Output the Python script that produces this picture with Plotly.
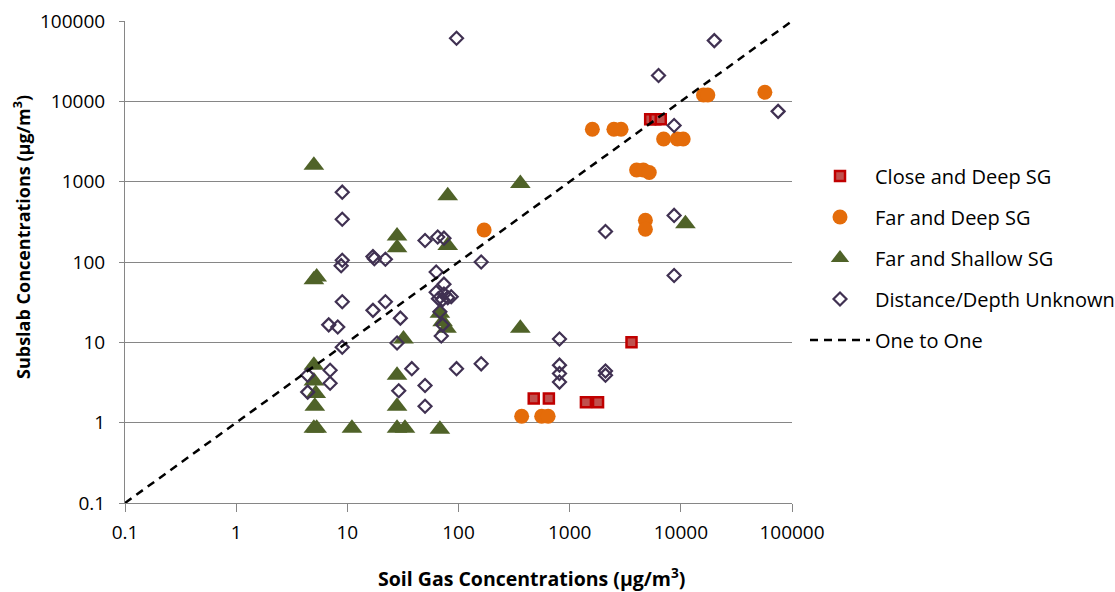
import plotly.graph_objects as go

# Close and Deep SG (soil gas x, subslab y), ug/m3
close_deep_x = [475, 650, 1400, 1800, 3600, 5300, 5900, 6600]
close_deep_y = [2.0, 2.0, 1.8, 1.8, 10, 6000, 6000, 6000]

# Far and Deep SG
far_deep_x = [1600, 2500, 2900, 7000, 9300, 10500, 4000, 4600, 5200,
              16000, 17500, 57000, 4800, 4800, 170, 370, 560, 640]
far_deep_y = [4500, 4500, 4500, 3400, 3400, 3400, 1400, 1400, 1300,
              12000, 12000, 13000, 330, 256, 250, 1.2, 1.2, 1.2]

# Far and Shallow SG
far_shallow_x = [5, 5, 5.3, 5, 5, 5.2, 5.1, 5, 5.3, 11, 28, 28, 28, 28, 28,
                 33, 32, 68, 68, 72, 78, 80, 80, 360, 360, 11000]
far_shallow_y = [1600, 60, 65, 5.2, 3.3, 2.3, 1.6, 0.85, 0.85, 0.85, 210, 150,
                 3.9, 1.6, 0.85, 0.85, 11, 0.83, 23, 18, 15, 670, 160, 950, 15, 300]

# Distance/Depth Unknown
unknown_x = [96, 20000, 6300, 75000, 8700, 8700, 2100, 65, 74, 160, 8700,
             810, 810, 810, 810, 2100, 2100, 96, 160, 38, 50, 50,
             63, 74, 63, 66, 74, 72, 80, 86, 68, 72, 70, 50,
             9, 9, 9, 8.8, 17, 17.5, 22, 9, 17, 22, 6.8, 8.2, 30, 9, 28,
             4.4, 7, 7, 4.4, 29]
unknown_y = [61000, 57000, 21000, 7500, 5000, 380, 240, 205, 198, 100, 68,
             11, 5.2, 4.1, 3.2, 4.4, 3.9, 4.7, 5.4, 4.7, 2.9, 1.6,
             75, 53, 42, 35, 40, 34, 36, 37, 24, 16.5, 12, 185,
             740, 340, 105, 90, 117, 110, 108, 32, 25, 32, 16.5, 15.5, 20, 8.7, 9.8,
             3.9, 4.5, 3.1, 2.4, 2.5]

# One-to-one reference line
one_to_one = [0.1, 100000]

tick_vals = [0.1, 1, 10, 100, 1000, 10000, 100000]
tick_text = ["0.1", "1", "10", "100", "1000", "10000", "100000"]

FONT = "Open Sans"
GRID = "#868686"
W, H = 1115, 592

fig = go.Figure()

fig.add_trace(go.Scatter(
    x=close_deep_x, y=close_deep_y, mode="markers", name="Close and Deep SG",
    legendgroup="a",
    marker=dict(symbol="square", size=10, color="#C0504D",
                line=dict(color="#C00000", width=2.5)),
))
fig.add_trace(go.Scatter(
    x=far_deep_x, y=far_deep_y, mode="markers", name="Far and Deep SG",
    legendgroup="b",
    marker=dict(symbol="circle", size=15, color="#E46C0A", line=dict(width=0)),
))
fig.add_trace(go.Scatter(
    x=far_shallow_x, y=far_shallow_y, mode="markers", name="Far and Shallow SG",
    legendgroup="c",
    marker=dict(symbol="triangle-up", size=18, color="#4F6228", line=dict(width=0)),
))
fig.add_trace(go.Scatter(
    x=unknown_x, y=unknown_y, mode="markers", name="Distance/Depth Unknown",
    legendgroup="d",
    marker=dict(symbol="diamond-open", size=10, color="#403152",
                line=dict(color="#403152", width=2.2)),
))
fig.add_trace(go.Scatter(
    x=one_to_one, y=one_to_one, mode="lines", name="One to One",
    legendgroup="e",
    line=dict(color="black", width=2.5, dash="8px,6px"),
))

fig.update_layout(
    width=W, height=H,
    margin=dict(l=125, r=323, t=21, b=89, autoexpand=False),
    paper_bgcolor="white", plot_bgcolor="white",
    font=dict(family=FONT, color="black", size=17),
    showlegend=True,
    legend=dict(
        xref="container", yref="container",
        x=805 / W, xanchor="left", y=1 - 156.5 / H, yanchor="top",
        font=dict(family=FONT, size=20, color="black"),
        traceorder="grouped", tracegroupgap=12, itemwidth=60,
        bgcolor="rgba(0,0,0,0)",
    ),
    xaxis=dict(
        type="log", range=[-1, 5], tickvals=tick_vals, ticktext=tick_text,
        showgrid=False, zeroline=False, automargin=False,
        showline=True, linecolor=GRID, linewidth=1,
        ticks="outside", ticklen=8, tickcolor=GRID, tickwidth=1,
        tickfont=dict(family=FONT, size=19), ticklabelstandoff=4,
    ),
    yaxis=dict(
        type="log", range=[-1, 5], tickvals=tick_vals, ticktext=tick_text,
        showgrid=True, gridcolor=GRID, gridwidth=1.2, zeroline=False, automargin=False,
        showline=True, linecolor=GRID, linewidth=1,
        ticks="outside", ticklen=5, tickcolor=GRID, tickwidth=1,
        tickfont=dict(family=FONT, size=19), ticklabelstandoff=10,
    ),
    annotations=[
        dict(text="<b>Soil Gas Concentrations (µg/m<sup>3</sup>)</b>",
             xref="paper", yref="paper",
             x=(531 - 125) / 667, y=-(577 - 503) / 482,
             xanchor="center", yanchor="middle", showarrow=False,
             font=dict(family=FONT, size=19.5, color="black")),
        dict(text="<b>Subslab Concentrations (µg/m<sup>3</sup>)</b>",
             xref="paper", yref="paper", textangle=-90,
             x=-(125 - 22) / 667, y=(503 - 237) / 482,
             xanchor="center", yanchor="middle", showarrow=False,
             font=dict(family=FONT, size=18, color="black")),
    ],
)

fig.write_html("out.html")
